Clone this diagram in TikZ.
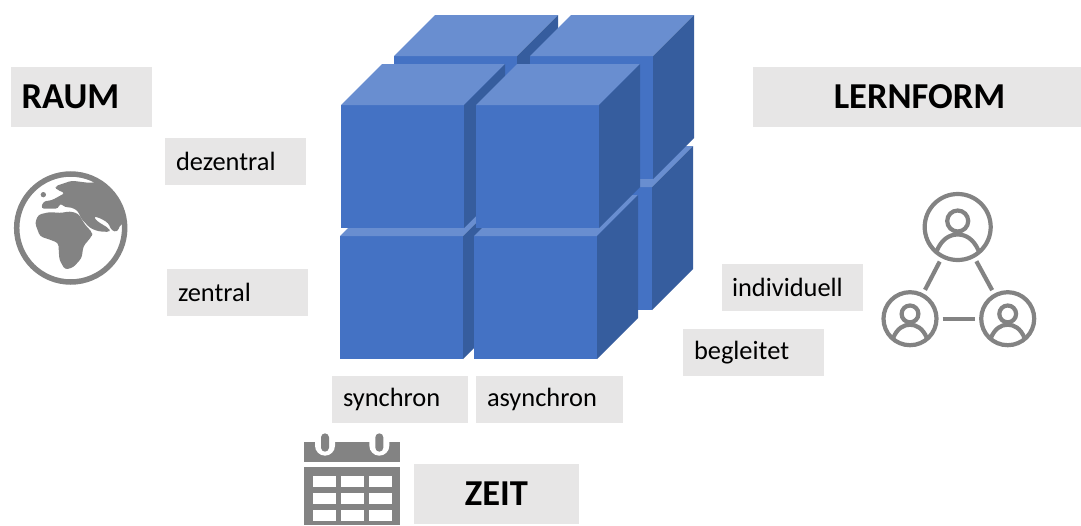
\documentclass[tikz,border=0pt]{standalone}
\usepackage{fontspec}
\setmainfont{Carlito}
\usepackage{tikz}
\definecolor{cubefront}{HTML}{4472C4}
\definecolor{cubetop}{HTML}{698ED0}
\definecolor{cubeside}{HTML}{365D9E}
\definecolor{tagfill}{HTML}{E7E6E6}
\definecolor{icongray}{HTML}{838383}
\newcommand{\cube}[2]{
\fill[cubefront] (#1,#2) rectangle ++(123,123);
\fill[cubetop] (#1,#2) -- ++(41,-41) -- ++(123,0) -- ++(-41,41) -- cycle;
\fill[cubeside] (#1+123,#2) -- ++(41,-41) -- ++(0,123) -- ++(-41,41) -- cycle;
}
\newcommand{\bust}[3]{
\begin{scope}[shift={(#1,#2)},scale=#3]
\draw[iconline] (0,-6) circle (10.5);
\draw[iconline] (-21,24) .. controls (-16,12) and (-8,7.5) .. (0,7.5) .. controls (8,7.5) and (16,12) .. (21,24);
\end{scope}
}
\begin{document}
\begin{tikzpicture}[x=1pt,y=-1pt]
\tikzstyle{tag}=[fill=tagfill,anchor=north west,minimum height=47pt,minimum width=141pt,text width=141pt,inner xsep=0pt,inner ysep=0pt,outer sep=0pt,align=left,font=\fontsize{26.4}{26.4}\selectfont]
\tikzstyle{headline}=[fill=tagfill,anchor=north west,minimum height=60pt,inner sep=0pt,outer sep=0pt,align=center,font=\fontsize{36.5}{36.5}\selectfont\bfseries]
\tikzstyle{iconline}=[draw=icongray,line width=4.2pt]
\tikzstyle{person}=[circle,draw=icongray,line width=4.2pt,inner sep=0pt,outer sep=0pt]
\useasboundingbox (0,0) rectangle (1081,525);

% cubes, back to front
\cube{529}{187}
\cube{394}{56}
\cube{530}{56}
\cube{340}{236}
\cube{474}{236}
\cube{341}{105}
\cube{476}{105}

% labels
\node[headline,minimum width=141pt] (raum) at (11,67) {\hspace*{-22pt}RAUM};
\node[tag] (dezentral) at (165,138) {\hspace*{11pt}dezentral};
\node[tag] (zentral) at (167,269) {\hspace*{11pt}zentral};
\node[tag,minimum width=136pt,text width=136pt] (synchron) at (332,376) {\hspace*{11pt}synchron};
\node[tag,minimum width=147pt,text width=147pt] (asynchron) at (476,376) {\hspace*{11pt}asynchron};
\node[tag] (individuell) at (722,264) {\hspace*{10pt}individuell};
\node[tag] (begleitet) at (683,329) {\hspace*{11pt}begleitet};
\node[headline,minimum width=328pt] (lernform) at (753,67) {\hspace*{5pt}LERNFORM};
\node[headline,minimum width=165pt] (zeit) at (414,464) {ZEIT};

% globe
\node[circle,draw=icongray,line width=5.5pt,minimum size=108pt,inner sep=0pt,outer sep=0pt] (globe) at (70.7,228) {};
\begin{scope}
\clip (70.7,228) circle (53);
\begin{scope}[shift={(10,168)},scale=1/3]
\fill[icongray,rounded corners=3pt] (75,165) -- (85,140) -- (120,132) -- (150,135) -- (180,130) -- (205,137) -- (225,170) -- (248,195) -- (245,205) -- (220,235) -- (215,270) -- (190,298) -- (165,305) -- (148,275) -- (145,225) -- (120,215) -- (90,205) -- cycle;
\fill[icongray,rounded corners=3pt] (93,122) -- (100,100) -- (125,97) -- (165,75) -- (140,65) -- (135,55) -- (185,38) -- (240,45) -- (380,20) -- (380,165) -- (332,168) -- (322,192) -- (305,188) -- (295,165) -- (270,150) -- (250,145) -- (262,160) -- (298,182) -- (300,192) -- (265,190) -- (240,180) -- (212,150) -- (205,130) -- (185,118) -- (165,118) -- (150,105) -- (145,122) -- cycle;
\fill[icongray] (100,80) circle (8);
\end{scope}
\end{scope}

% people
\node[person,minimum size=66pt] (P1) at (957.7,227) {};
\node[person,minimum size=53pt] (P2) at (910,318.7) {};
\node[person,minimum size=53pt] (P3) at (1007.7,318.7) {};
\bust{957.7}{227}{1}
\bust{910}{318.7}{0.8}
\bust{1007.7}{318.7}{0.8}
\draw[iconline,shorten >=6pt,shorten <=6pt] (P1) -- (P2);
\draw[iconline,shorten >=6pt,shorten <=6pt] (P1) -- (P3);
\draw[iconline,shorten >=6pt,shorten <=6pt] (P2) -- (P3);

% calendar
\begin{scope}[shift={(290,425)},scale=1/3]
\fill[icongray] (43,50) rectangle (331,110);
\fill[icongray] (43,127) rectangle (331,300);
\foreach \cx in {68,153,238}
\foreach \cy in {153,203,254}
\fill[white] (\cx,\cy) rectangle ++(69,34);
\foreach \cx in {105,268} {
\fill[white] (\cx-30,50) -- (\cx+30,50) -- (\cx+30,62) arc (0:180:30) -- cycle;
\fill[icongray,rounded corners=4pt] (\cx-12,25) rectangle (\cx+12,80);
}
\end{scope}
\end{tikzpicture}
\end{document}
